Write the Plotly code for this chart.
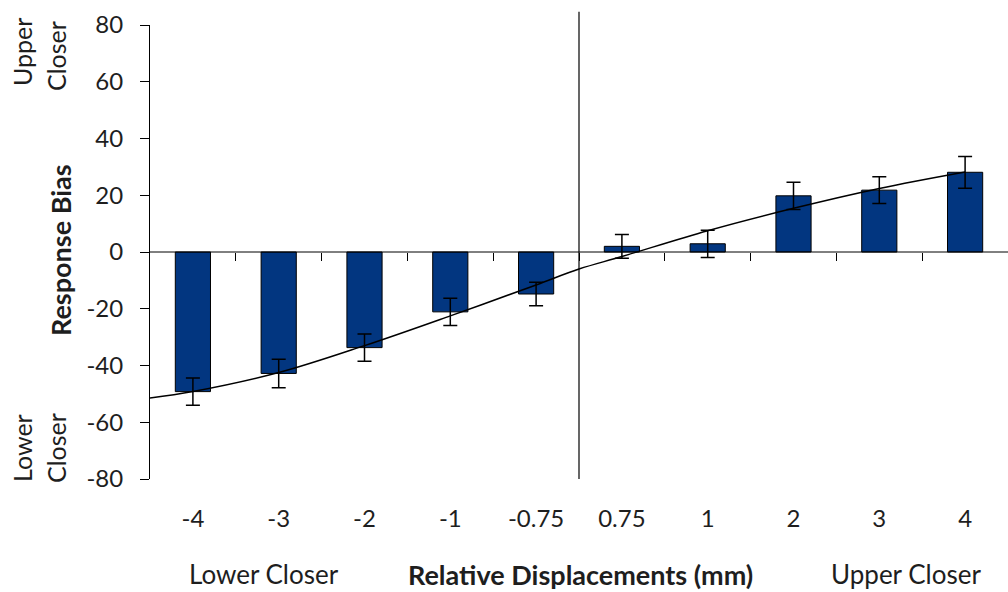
import plotly.graph_objects as go

# ---- data ----
categories = ["-4", "-3", "-2", "-1", "-0.75", "0.75", "1", "2", "3", "4"]
bias = [-49.2, -42.8, -33.7, -21.1, -14.8, 2.0, 2.9, 19.8, 21.8, 28.1]
bias_err = [4.8, 5.0, 4.8, 4.8, 4.1, 4.2, 4.8, 4.8, 4.7, 5.6]

# fitted curve (x in category-slot units)
fit_x = [-0.5, 0, 1, 2, 3, 4, 4.5, 5, 6, 7, 8, 9]
fit_y = [-51.5, -49.2, -42.5, -33.0, -22.5, -11.6, -6.0, -1.6, 7.5, 15.4, 22.4, 28.2]

y_ticks = [-80, -60, -40, -20, 0, 20, 40, 60, 80]
y_tick_text = ["-80", "-60", "-40", "-20", "0", "20", "40", "60", "80"]

FONT = "Lato"
TXT = "#1e1e1e"
BAR = "#023680"

idx = list(range(len(categories)))
bounds = [i + 0.5 for i in idx[:-1]]

fig = go.Figure()

fig.add_trace(go.Bar(
    x=idx, y=bias, width=0.41,
    marker=dict(color=BAR, line=dict(color="black", width=1)),
    error_y=dict(type="data", array=bias_err, color="black", thickness=1.5, width=7),
    hoverinfo="skip", showlegend=False,
))

fig.add_trace(go.Scatter(
    x=fit_x, y=fit_y, mode="lines", line=dict(color="black", width=1.5, shape="spline"),
    hoverinfo="skip", showlegend=False,
))

# zero line with boundary ticks (second x axis)
fig.add_trace(go.Scatter(
    x=[-0.5, 9.5], y=[0, 0], mode="lines", line=dict(color="black", width=1),
    xaxis="x2", hoverinfo="skip", showlegend=False,
))

fig.update_layout(
    width=1008, height=592,
    margin=dict(l=150, r=0, t=25, b=113),
    paper_bgcolor="white", plot_bgcolor="white",
    font=dict(family=FONT, size=24, color=TXT),
    xaxis=dict(
        range=[-0.5, 9.5], tickmode="array", tickvals=idx, ticktext=categories,
        showline=False, showgrid=False, zeroline=False,
        ticks="outside", ticklen=18, tickcolor="rgba(0,0,0,0)",
        tickfont=dict(family=FONT, size=24, color=TXT),
    ),
    xaxis2=dict(
        range=[-0.5, 9.5], overlaying="x", anchor="free", position=0.5,
        side="bottom", tickmode="array", tickvals=bounds,
        showticklabels=False, showline=False, showgrid=False, zeroline=False,
        ticks="outside", ticklen=8, tickcolor="black", tickwidth=1,
    ),
    yaxis=dict(
        range=[-80, 80], tickmode="array", tickvals=y_ticks, ticktext=y_tick_text,
        showline=True, linecolor="black", linewidth=1,
        showgrid=False, zeroline=False,
        ticks="outside", ticklen=9, tickcolor="black", tickwidth=1,
        ticklabelstandoff=12,
        tickfont=dict(family=FONT, size=24, color=TXT),
    ),
    shapes=[dict(type="line", xref="x", yref="paper", x0=4.5, x1=4.5, y0=0, y1=1.029,
                 line=dict(color="black", width=1.2))],
)

def px_x(p):
    return (p - 150) / 858

def px_y(q):
    return (479 - q) / 454

ann = [
    dict(text="<b>Response Bias</b>", x=px_x(61), y=px_y(250), textangle=-90, size=27),
    dict(text="Upper", x=px_x(22), y=px_y(52), textangle=-90, size=25),
    dict(text="Closer", x=px_x(56), y=px_y(56), textangle=-90, size=25),
    dict(text="Lower", x=px_x(22), y=px_y(448), textangle=-90, size=25),
    dict(text="Closer", x=px_x(56), y=px_y(448), textangle=-90, size=25),
    dict(text="Lower Closer", x=px_x(264), y=px_y(574), size=26),
    dict(text="<b>Relative Displacements (mm)</b>", x=px_x(580), y=px_y(574), size=27),
    dict(text="Upper Closer", x=px_x(906), y=px_y(574), size=26),
]
for a in ann:
    size = a.pop("size")
    fig.add_annotation(xref="paper", yref="paper", showarrow=False,
                       xanchor="center", yanchor="middle",
                       font=dict(family=FONT, size=size, color=TXT), **a)

fig.write_html("out.html")
